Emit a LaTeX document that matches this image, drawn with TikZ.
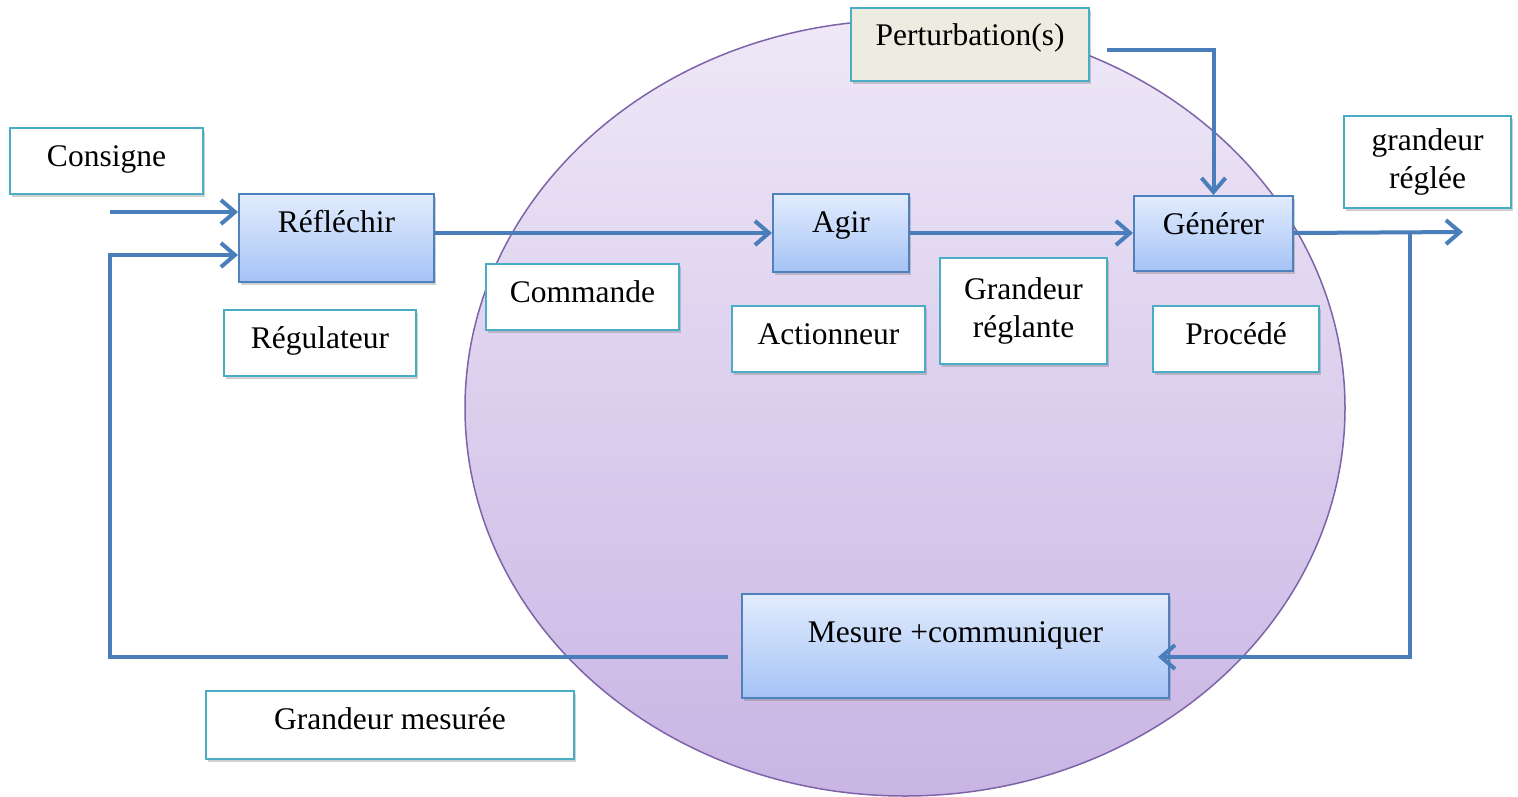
\documentclass[tikz,border=0pt]{standalone}
\usepackage{fontspec}
\setmainfont{Liberation Serif}
\usetikzlibrary{arrows.meta,shadows,calc}
\definecolor{tealb}{HTML}{4BACC6}
\definecolor{blueb}{HTML}{4F81BD}
\definecolor{arrowc}{HTML}{4A7EBB}
\definecolor{ellb}{HTML}{7F63A8}
\definecolor{elltop}{HTML}{EEE8F7}
\definecolor{ellbot}{HTML}{C9B5E4}
\definecolor{bluetop}{HTML}{E2ECFD}
\definecolor{bluebot}{HTML}{A5C3F6}
\definecolor{pertfill}{HTML}{EEEBE0}
\begin{document}
\begin{tikzpicture}[x=1pt,y=-1pt,
 every node/.style={font=\fontsize{31.5}{38}\selectfont, inner xsep=0pt, inner ysep=0pt},
 shad/.style={drop shadow={shadow xshift=2pt,shadow yshift=-3pt,opacity=0.3,fill=black!60}},
 whitebox/.style={draw=tealb,line width=2pt,fill=white,shad,anchor=north west,align=center},
 bluebox/.style={draw=blueb,line width=2pt,top color=bluetop,bottom color=bluebot,shad,anchor=north west},
 sz/.style n args={3}{minimum width=#1pt,minimum height=#2pt,text height=38pt,text depth=#3pt},
 flow/.style={draw=arrowc,line width=4pt,-{Straight Barb[length=14pt,width=24pt]}},
]
\useasboundingbox (0,0) rectangle (1518,796);
\fill[white] (0,0) rectangle (1518,796);
\draw[draw=ellb,line width=1.5pt,top color=elltop,bottom color=ellbot] (905,408) ellipse [x radius=440, y radius=388];

\node[whitebox, fill=pertfill, sz={238}{73}{35}, text height=37pt, text depth=36pt] (pert) at (850,7) {Perturbation(s)};
\node[whitebox, sz={193}{66}{28}] (cons) at (9,127) {Consigne};
\node[bluebox, sz={195}{88}{50}] (refl) at (238,193) {Réfléchir};
\node[whitebox, sz={192}{66}{28}] (reg) at (223,309) {Régulateur};
\node[whitebox, sz={193}{66}{28}] (cmd) at (485,263) {Commande};
\node[bluebox, sz={136}{78}{40}] (agir) at (772,193) {Agir};
\node[whitebox, sz={193}{66}{28}] (act) at (731,305) {Actionneur};
\node[whitebox, minimum width=167pt, minimum height=106pt] (grl) at (939,257) {Grandeur\\réglante};
\node[bluebox, sz={159}{75}{37}] (gen) at (1133,195) {Générer};
\node[whitebox, sz={166}{66}{28}] (proc) at (1152,305) {Procédé};
\node[whitebox, minimum width=167pt, minimum height=92pt] (gre) at (1343,115) {grandeur\\réglée};
\node[bluebox, minimum width=427pt, minimum height=104pt, text height=48pt, text depth=56pt] (mes) at (741,593) {Mesure +communiquer};
\node[whitebox, sz={368}{68}{30}] (gme) at (205,690) {Grandeur mesurée};

\coordinate (cin) at (110,212);
\coordinate (out) at (1463,232);
\coordinate (br) at (1410,232);
\coordinate (mesin) at (1158,657);
\coordinate (fbs) at (728,657);
\coordinate (fbc) at (110,657);
\coordinate (fby) at (0,255);
\coordinate (ps) at (1107,50);

\draw[flow] (cin) -- (cin -| refl.west);
\draw[flow] (agir.west -| refl.east) -- (agir.west);
\draw[flow] (agir.east) -- (agir.east -| gen.west);
\draw[flow] (agir.east -| gen.east) -- (out);
\draw[flow] (br) |- (mesin);
\draw[flow] (fbs) -- (fbc) |- (fby -| refl.west);
\draw[flow] (ps) -| (gen.north);
\end{tikzpicture}
\end{document}
